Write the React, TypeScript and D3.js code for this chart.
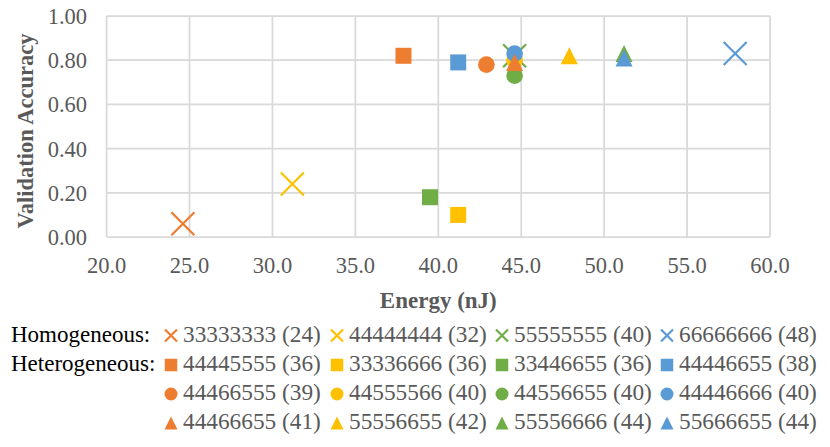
import React, { useEffect, useRef } from "react";
import * as d3 from "d3";

// ---- data ----
const homoLabels = ["33333333 (24)", "44444444 (32)", "55555555 (40)", "66666666 (48)"];
const homoEnergy = [24.6, 31.2, 44.6, 57.9];
const homoAcc = [0.06, 0.24, 0.82, 0.83];

const squareLabels = ["44445555 (36)", "33336666 (36)", "33446655 (36)", "44446655 (38)"];
const squareEnergy = [37.9, 41.2, 39.5, 41.2];
const squareAcc = [0.82, 0.1, 0.18, 0.79];

const circleLabels = ["44466555 (39)", "44555566 (40)", "44556655 (40)", "44446666 (40)"];
const circleEnergy = [42.9, 44.6, 44.6, 44.6];
const circleAcc = [0.78, 0.8, 0.73, 0.83];

const triangleLabels = ["44466655 (41)", "55556655 (42)", "55556666 (44)", "55666655 (44)"];
const triangleEnergy = [44.6, 47.9, 51.2, 51.2];
const triangleAcc = [0.79, 0.82, 0.83, 0.81];

const xTicks = [20, 25, 30, 35, 40, 45, 50, 55, 60];
const yTicks = [0, 0.2, 0.4, 0.6, 0.8, 1.0];
const groupLabels = ["Homogeneous:", "Heterogeneous:"];
const xTitle = "Energy (nJ)";
const yTitle = "Validation Accuracy";

const palette = ["#ED7D31", "#FFC000", "#70AD47", "#5B9BD5"];

// custom symbol types (size = full width in px)
const symX = {
  draw(ctx: any, size: number) {
    const h = size / 2;
    ctx.moveTo(-h, -h);
    ctx.lineTo(h, h);
    ctx.moveTo(-h, h);
    ctx.lineTo(h, -h);
  },
};
const symSquare = {
  draw(ctx: any, size: number) {
    const h = size / 2;
    ctx.rect(-h, -h, size, size);
  },
};
const symCircle = {
  draw(ctx: any, size: number) {
    const h = size / 2;
    ctx.moveTo(h, 0);
    ctx.arc(0, 0, h, 0, 2 * Math.PI);
  },
};
const symTriangle = {
  draw(ctx: any, size: number) {
    const h = size / 2;
    ctx.moveTo(0, -h);
    ctx.lineTo(h, h);
    ctx.lineTo(-h, h);
    ctx.closePath();
  },
};

export default function App() {
  const ref = useRef<SVGSVGElement>(null);

  useEffect(() => {
    const svg = d3.select(ref.current);
    svg.selectAll("*").remove();

    const W = 830, H = 447;
    const left = 106.6, right = 770, top = 16, bottom = 237;
    const x = d3.scaleLinear().domain([20, 60]).range([left, right]);
    const y = d3.scaleLinear().domain([0, 1]).range([bottom, top]);

    svg.append("rect").attr("width", W).attr("height", H).attr("fill", "#fff");

    const font = "'Liberation Serif', 'Times New Roman', serif";
    const gray = "#595959";

    // gridlines
    const grid = svg.append("g");
    grid.selectAll("line.v").data(xTicks).enter().append("line")
      .attr("x1", (d) => x(d)).attr("x2", (d) => x(d))
      .attr("y1", top).attr("y2", bottom)
      .attr("stroke", "#D9D9D9").attr("stroke-width", 1.75);
    grid.selectAll("line.h").data(yTicks).enter().append("line")
      .attr("x1", left).attr("x2", right)
      .attr("y1", (d) => y(d)).attr("y2", (d) => y(d))
      .attr("stroke", "#D9D9D9").attr("stroke-width", 1.75);

    // tick labels
    svg.append("g").selectAll("text").data(xTicks).enter().append("text")
      .attr("x", (d) => x(d)).attr("y", 273)
      .attr("text-anchor", "middle")
      .attr("font-family", font).attr("font-size", 22.5).attr("fill", gray)
      .text((d) => d3.format(".1f")(d));
    svg.append("g").selectAll("text").data(yTicks).enter().append("text")
      .attr("x", 87).attr("y", (d) => y(d) + 8)
      .attr("text-anchor", "end")
      .attr("font-family", font).attr("font-size", 22.5).attr("fill", gray)
      .text((d) => d3.format(".2f")(d));

    // axis titles
    svg.append("text")
      .attr("x", (left + right) / 2).attr("y", 308)
      .attr("text-anchor", "middle")
      .attr("font-family", font).attr("font-size", 23).attr("font-weight", "bold").attr("fill", gray)
      .text(xTitle);
    svg.append("text")
      .attr("transform", `translate(33,131) rotate(-90)`)
      .attr("text-anchor", "middle")
      .attr("font-family", font).attr("font-size", 22.5).attr("font-weight", "bold").attr("fill", gray)
      .text(yTitle);

    const sym = (t: any, s: number) => d3.symbol().type(t).size(s)();

    // markers in plot (draw order = series order)
    const plot = svg.append("g");
    homoEnergy.forEach((e, i) => {
      plot.append("path")
        .attr("transform", `translate(${x(e)},${y(homoAcc[i])})`)
        .attr("d", sym(symX, 23))
        .attr("fill", "none").attr("stroke", palette[i]).attr("stroke-width", 2.2);
    });
    const filled = [
      { type: symSquare, size: 16, e: squareEnergy, a: squareAcc },
      { type: symCircle, size: 16.7, e: circleEnergy, a: circleAcc },
      { type: symTriangle, size: 17, e: triangleEnergy, a: triangleAcc },
    ];
    filled.forEach((g) => {
      g.e.forEach((e, i) => {
        plot.append("path")
          .attr("transform", `translate(${x(e)},${y(g.a[i])})`)
          .attr("d", sym(g.type, g.size))
          .attr("fill", palette[i]);
      });
    });

    // legend
    const leg = svg.append("g");
    const colMarker = [171, 337, 502, 667];
    const rowMarkerY = [335.5, 365, 394, 423];
    const rowBase = [342, 371, 400, 429];
    leg.append("text").attr("x", 11).attr("y", rowBase[0])
      .attr("font-family", font).attr("font-size", 23).attr("fill", "#000").text(groupLabels[0]);
    leg.append("text").attr("x", 11).attr("y", rowBase[1])
      .attr("font-family", font).attr("font-size", 23).attr("fill", "#000").text(groupLabels[1]);

    const rows = [
      { type: symX, size: 12, labels: homoLabels, stroke: true },
      { type: symSquare, size: 12.5, labels: squareLabels, stroke: false },
      { type: symCircle, size: 13, labels: circleLabels, stroke: false },
      { type: symTriangle, size: 13, labels: triangleLabels, stroke: false },
    ];
    rows.forEach((r, ri) => {
      r.labels.forEach((lab, ci) => {
        const p = leg.append("path")
          .attr("transform", `translate(${colMarker[ci]},${rowMarkerY[ri]})`)
          .attr("d", sym(r.type, r.size));
        if (r.stroke) p.attr("fill", "none").attr("stroke", palette[ci]).attr("stroke-width", 2.2);
        else p.attr("fill", palette[ci]);
        leg.append("text")
          .attr("x", colMarker[ci] + 12).attr("y", rowBase[ri])
          .attr("font-family", font).attr("font-size", 23.3).attr("fill", gray)
          .text(lab);
      });
    });
  }, []);

  return (
    <svg
      ref={ref}
      width={830}
      height={447}
      style={{ position: "absolute", left: 0, top: 0, display: "block" }}
    />
  );
}
